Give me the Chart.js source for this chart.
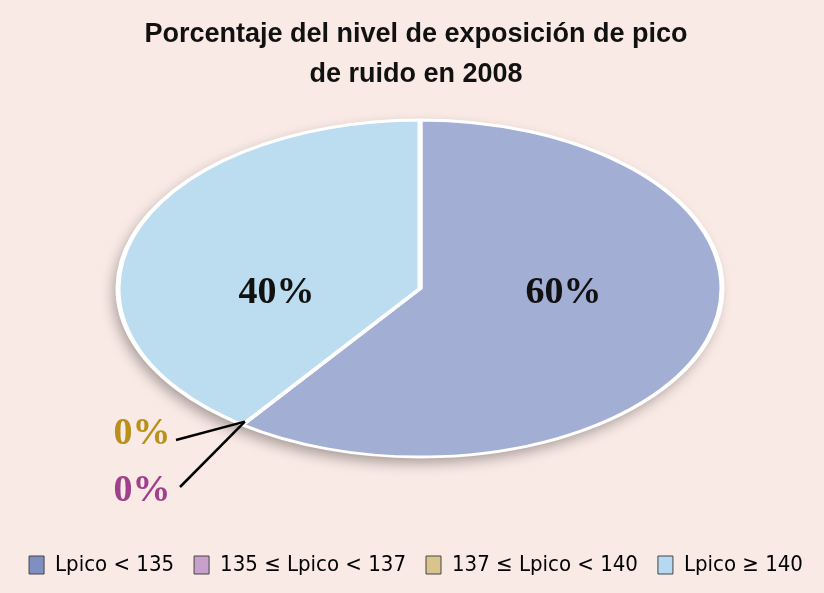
<!DOCTYPE html>
<html>
<head>
<meta charset="utf-8">
<script src="https://cdn.jsdelivr.net/npm/chart.js@4"></script>
<style>
  html, body { margin: 0; padding: 0; background: #FAEAE6; }
  #wrap { width: 824px; height: 593px; }
</style>
</head>
<body>
<div id="wrap"><canvas id="pieChart" width="824" height="593"></canvas></div>
<script>
// niveles de exposición de pico de ruido (2008)
const categories = ["Lpico < 135", "135 ≤ Lpico < 137", "137 ≤ Lpico < 140", "Lpico ≥ 140"];
const percentages = [60, 0, 0, 40];
const sliceColors = ["#A2AED4", "#C8A0CC", "#D8C490", "#BCDCEF"];
const legendColors = ["#7F8FC2", "#C8A0CC", "#D9C48E", "#B5D9F0"];
const labelColors = ["#111111", "#A0408C", "#B8901A", "#111111"];

// target ellipse for the flattened pie
const ell = { cx: 420, cy: 288.5, rx: 302, ry: 168.5 };

const ellipsePlugin = {
    id: "ellipse",
    beforeDatasetsDraw(chart) {
        const arc = chart.getDatasetMeta(0).data[0];
        const r = arc.outerRadius;
        const ctx = chart.ctx;
        ctx.save();
        // soft shadow under the pie
        ctx.save();
        ctx.shadowColor = "rgba(0,0,0,0.35)";
        ctx.shadowBlur = 14;
        ctx.shadowOffsetX = -4;
        ctx.shadowOffsetY = 6;
        ctx.fillStyle = "#ffffff";
        ctx.beginPath();
        ctx.ellipse(ell.cx, ell.cy, ell.rx, ell.ry, 0, 0, Math.PI * 2);
        ctx.fill();
        ctx.restore();
        ctx.translate(ell.cx, ell.cy);
        ctx.scale(ell.rx / r, ell.ry / r);
        ctx.translate(-arc.x, -arc.y);
    },
    afterDatasetsDraw(chart) {
        const ctx = chart.ctx;
        ctx.restore();
        const meta = chart.getDatasetMeta(0);
        ctx.save();
        ctx.textAlign = "center";
        ctx.textBaseline = "middle";
        ctx.font = "bold 38px 'Liberation Serif'";
        meta.data.forEach((a, i) => {
            if (percentages[i] <= 0) return;
            const mid = (a.startAngle + a.endAngle) / 2;
            const x = ell.cx + 0.5 * ell.rx * Math.cos(mid);
            ctx.fillStyle = labelColors[i];
            ctx.fillText(percentages[i] + "%", x, ell.cy + 5);
        });
        // zero slices: leader lines to the boundary
        const zeroIdx = [];
        meta.data.forEach((a, i) => { if (percentages[i] <= 0) zeroIdx.push(i); });
        const ang = meta.data[zeroIdx[0]].startAngle;
        const ax = ell.cx + (ell.rx - 4) * Math.cos(ang);
        const ay = ell.cy + (ell.ry - 4) * Math.sin(ang);
        const spots = [{ y: 491, ly: 487, lx: 180 }, { y: 434, ly: 440, lx: 176 }];
        ctx.strokeStyle = "#000";
        ctx.lineWidth = 2.5;
        zeroIdx.forEach((i, k) => {
            const s = spots[k];
            ctx.beginPath();
            ctx.moveTo(s.lx, s.ly);
            ctx.lineTo(ax, ay);
            ctx.stroke();
            ctx.fillStyle = labelColors[i];
            ctx.fillText(percentages[i] + "%", 142, s.y);
        });
        ctx.restore();
    }
};

const ctx = document.getElementById("pieChart").getContext("2d");
const myChart = new Chart(ctx, {
    type: "pie",
    data: {
        labels: categories,
        datasets: [{
            data: percentages,
            backgroundColor: sliceColors,
            borderColor: "#ffffff",
            borderWidth: 3.5
        }]
    },
    options: {
        responsive: false,
        animation: false,
        layout: { padding: { left: 8, right: 0, top: 0, bottom: 7 } },
        plugins: {
            title: {
                display: true,
                text: ["Porcentaje del nivel de exposición de pico", "de ruido en 2008"],
                color: "#111",
                font: { family: "'Liberation Sans'", size: 27, weight: "bold", lineHeight: 1.5 },
                padding: { top: 14, bottom: 14 }
            },
            legend: {
                position: "bottom",
                labels: {
                    color: "#111",
                    font: { family: "'DejaVu Sans Condensed', 'Liberation Sans Narrow', 'Liberation Sans'", size: 22 },
                    boxWidth: 15,
                    boxHeight: 18,
                    padding: 20,
                    generateLabels: () => categories.map((c, i) => ({
                        text: c,
                        fillStyle: legendColors[i],
                        strokeStyle: "#444",
                        lineWidth: 1,
                        index: i
                    }))
                }
            },
            tooltip: { enabled: false }
        }
    },
    plugins: [ellipsePlugin]
});
</script>
</body>
</html>
